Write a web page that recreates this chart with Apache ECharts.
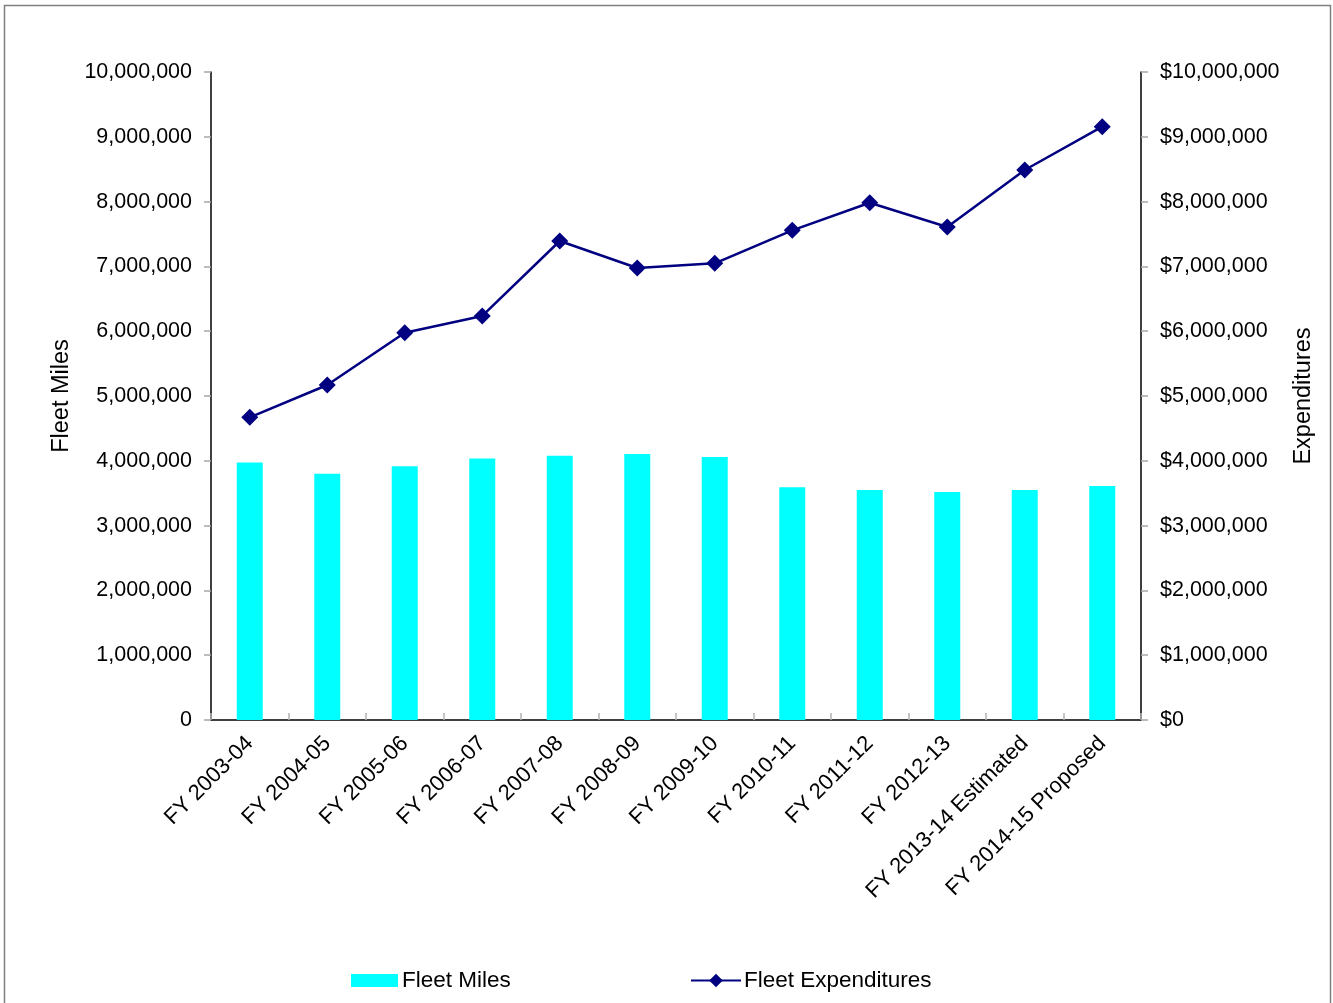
<!DOCTYPE html>
<html>
<head>
<meta charset="utf-8">
<title>Fleet Miles and Fleet Expenditures</title>
<script src="https://cdn.jsdelivr.net/npm/echarts@6/dist/echarts.min.js"></script>
<style>
  html, body { margin: 0; padding: 0; background: #ffffff; }
  #chart { width: 1333px; height: 1003px; }
</style>
</head>
<body>
<div id="chart"></div>
<script>
// Fiscal years shown on the category axis
const fiscalYears = [
  'FY 2003-04', 'FY 2004-05', 'FY 2005-06', 'FY 2006-07', 'FY 2007-08',
  'FY 2008-09', 'FY 2009-10', 'FY 2010-11', 'FY 2011-12', 'FY 2012-13',
  'FY 2013-14 Estimated', 'FY 2014-15 Proposed'
];

// Miles driven by the fleet each year
const fleetMiles = [
  3975000, 3800000, 3914000, 4037000, 4079000, 4105000,
  4059000, 3590000, 3549000, 3519000, 3549000, 3611000
];

// Fleet spending each year (dollars)
const fleetExpenditures = [
  4671000, 5170000, 5977000, 6235000, 7392000, 6975000,
  7048000, 7557000, 7983000, 7608000, 8488000, 9156000
];

// Value-axis range shared by both sides
const axisMin = 0;
const axisMax = 10000000;
const axisStep = 1000000;

const fontFamily = '"Liberation Sans", Arial, Helvetica, sans-serif';
const withCommas = v => Math.round(v).toString().replace(/\B(?=(\d{3})+(?!\d))/g, ',');

const chart = echarts.init(document.getElementById('chart'), null, { renderer: 'canvas' });

const valueAxisBase = {
  type: 'value',
  min: axisMin,
  max: axisMax,
  interval: axisStep,
  nameLocation: 'middle',
  nameRotate: 90,
  nameTextStyle: { fontFamily, fontSize: 23.5, color: '#000000' },
  axisLine: { show: true, lineStyle: { color: '#000000', width: 1.5 } },
  axisTick: { show: true, inside: false, length: 7, lineStyle: { color: '#a6a6a6', width: 1.5 } },
  splitLine: { show: false },
  axisLabel: { fontFamily, fontSize: 21.5, color: '#000000', margin: 19 }
};

chart.setOption({
  backgroundColor: '#ffffff',
  animation: false,
  graphic: [{
    type: 'rect',
    shape: { x: 4.5, y: 5.5, width: 1326, height: 1020 },
    style: { fill: 'none', stroke: '#7f7f7f', lineWidth: 1.5 },
    silent: true,
    z: -10
  }],
  grid: { left: 211, right: 192, top: 72, bottom: 283, containLabel: false },
  legend: [{
    data: [{ name: 'Fleet Miles', icon: 'rect' }],
    left: 351,
    top: 969,
    padding: 0,
    itemWidth: 47,
    itemHeight: 13,
    textStyle: { fontFamily, fontSize: 22.5, color: '#000000', padding: [0, 0, 0, -1] }
  }, {
    data: ['Fleet Expenditures'],
    left: 690,
    top: 969,
    padding: 0,
    itemWidth: 50,
    itemHeight: 17,
    textStyle: { fontFamily, fontSize: 22.5, color: '#000000', padding: [0, 0, 0, -2] }
  }],
  xAxis: {
    type: 'category',
    data: fiscalYears,
    boundaryGap: true,
    axisLine: { show: true, lineStyle: { color: '#000000', width: 1.5 } },
    axisTick: { show: true, inside: true, length: 7, alignWithLabel: false, lineStyle: { color: '#b3b3b3', width: 1.5 } },
    axisLabel: {
      interval: 0,
      rotate: 45,
      margin: 20,
      fontFamily,
      fontSize: 22,
      color: '#000000'
    }
  },
  yAxis: [
    Object.assign({}, valueAxisBase, {
      position: 'left',
      name: 'Fleet Miles',
      nameGap: 134,
      axisLabel: Object.assign({}, valueAxisBase.axisLabel, {
        formatter: v => withCommas(v)
      })
    }),
    Object.assign({}, valueAxisBase, {
      position: 'right',
      name: 'Expenditures',
      nameGap: 151,
      nameRotate: 90,
      axisLabel: Object.assign({}, valueAxisBase.axisLabel, {
        formatter: v => '$' + withCommas(v)
      })
    })
  ],
  series: [{
    name: 'Fleet Miles',
    type: 'bar',
    yAxisIndex: 0,
    data: fleetMiles,
    barWidth: 26,
    itemStyle: { color: '#00ffff' }
  }, {
    name: 'Fleet Expenditures',
    type: 'line',
    yAxisIndex: 1,
    data: fleetExpenditures,
    symbol: 'diamond',
    symbolSize: 17,
    lineStyle: { color: '#000080', width: 2.5 },
    itemStyle: { color: '#000080' }
  }]
});
</script>
</body>
</html>
